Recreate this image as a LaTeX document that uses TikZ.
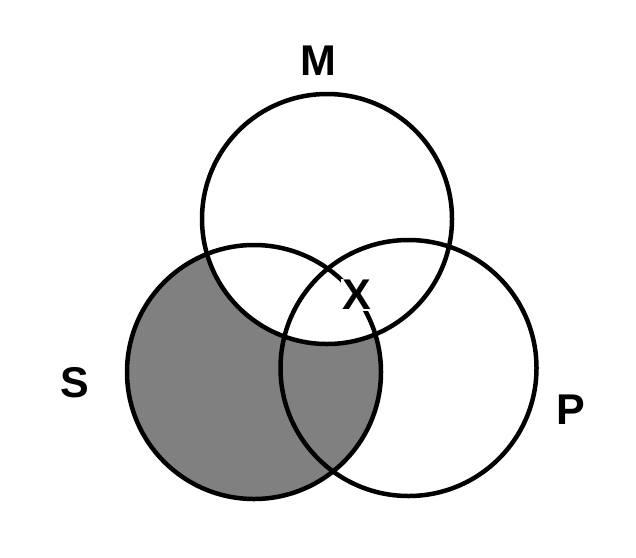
\documentclass[tikz,border=0pt]{standalone}
\usepackage{fontspec}
\setmainfont{Liberation Sans}
\begin{document}
\begin{tikzpicture}[x=1pt,y=-1pt,
  ring/.style={circle,draw=black,line width=4.5pt,inner sep=0pt,minimum size=#1},
  lbl/.style={font=\fontsize{43}{43}\selectfont\bfseries,inner sep=0pt}]
\useasboundingbox (0,0) rectangle (636,557);
\coordinate (cM) at (327,219);
\coordinate (cS) at (254,372);
\coordinate (cP) at (408.5,368);
% shading: S outside M
\fill[gray] (cS) circle (127pt);
\begin{scope}
  \clip (cM) circle (125pt);
  \fill[white] (cS) circle (128pt);
\end{scope}
\node[ring=250pt] (M) at (cM) {};
\node[ring=254pt] (S) at (cS) {};
\node[ring=256pt] (P) at (cP) {};
\node[lbl] (lM) at (318,61) {M};
\node[lbl] (lS) at (75,383) {S};
\node[lbl] (lP) at (571,410) {P};
\node[lbl,fill=white,inner sep=1.5pt] (lX) at (357,295) {X};
\end{tikzpicture}
\end{document}
